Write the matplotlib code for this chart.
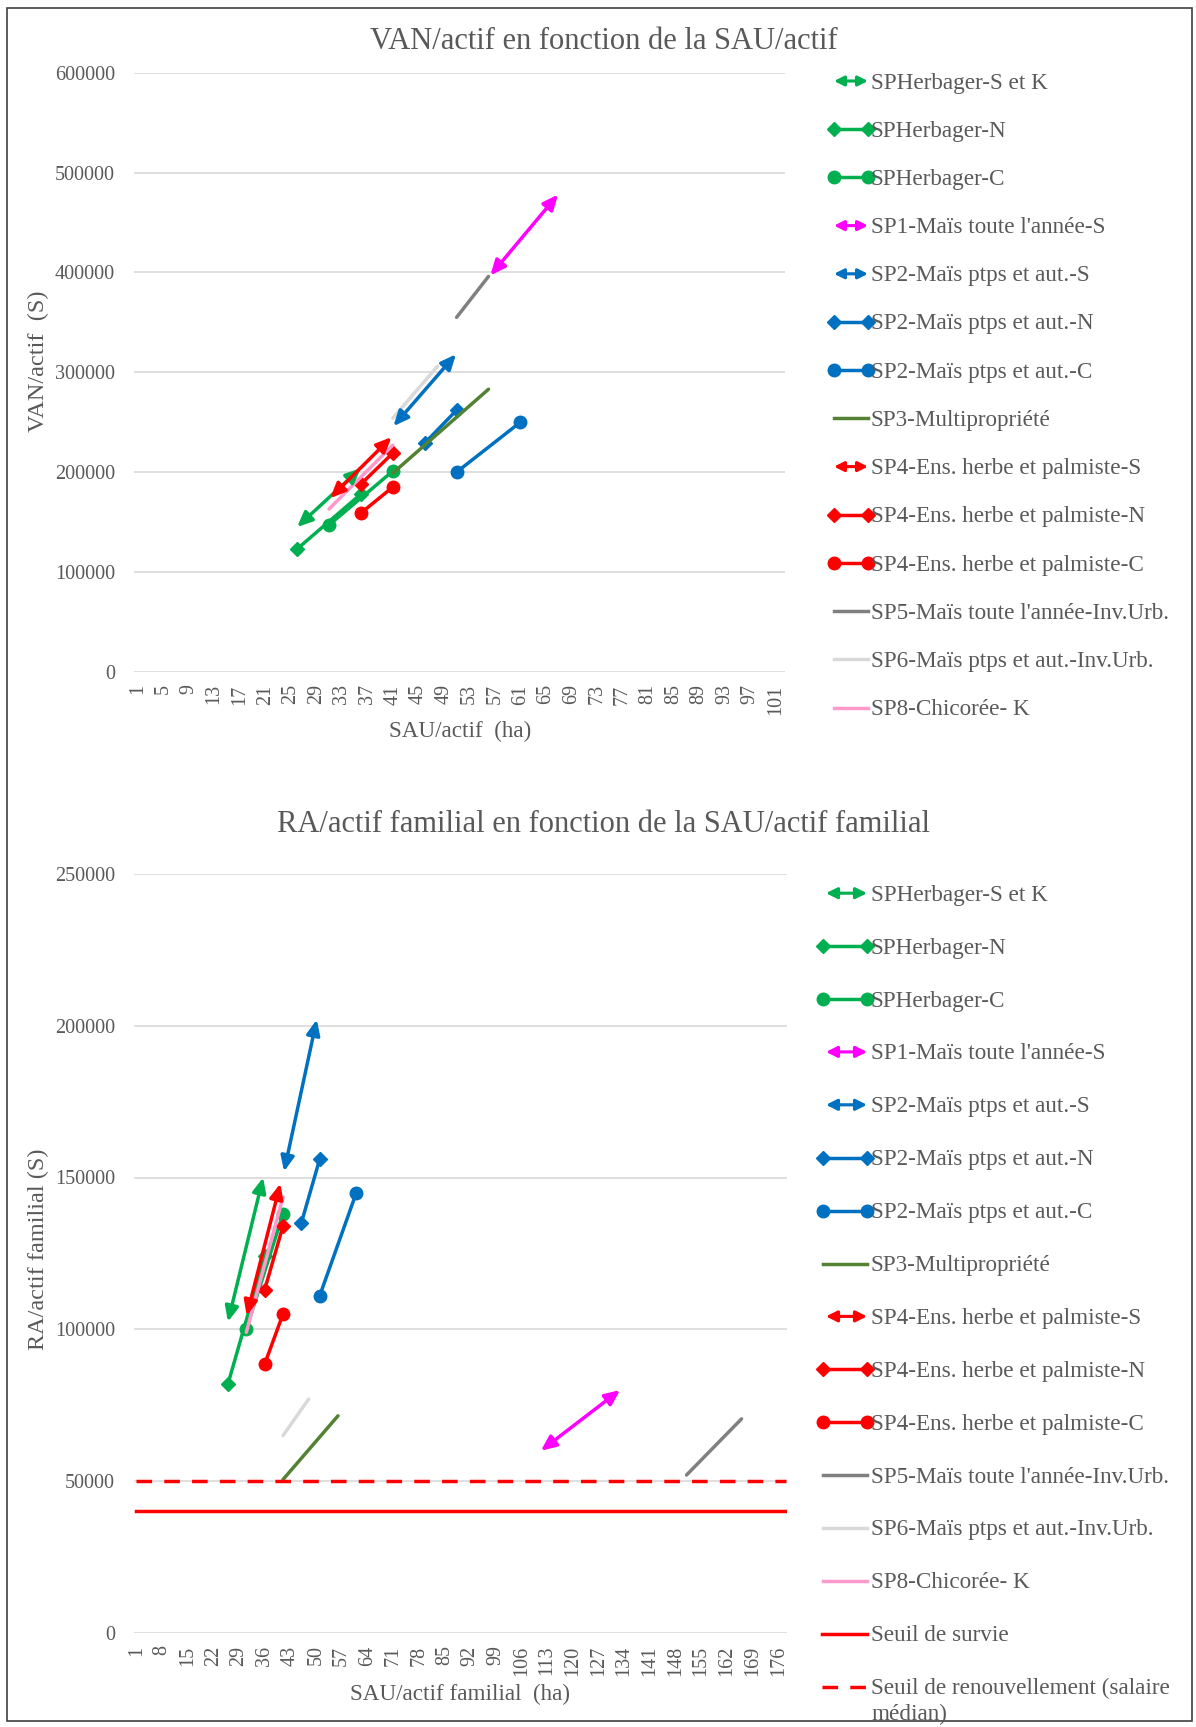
import matplotlib
matplotlib.use("Agg")
import matplotlib.pyplot as plt
from matplotlib.lines import Line2D
from matplotlib.patches import FancyArrowPatch, Rectangle

# ---------------- data ----------------
series_names = [
    "SPHerbager-S et K", "SPHerbager-N", "SPHerbager-C",
    "SP1-Maïs toute l'année-S", "SP2-Maïs ptps et aut.-S", "SP2-Maïs ptps et aut.-N",
    "SP2-Maïs ptps et aut.-C", "SP3-Multipropriété", "SP4-Ens. herbe et palmiste-S",
    "SP4-Ens. herbe et palmiste-N", "SP4-Ens. herbe et palmiste-C",
    "SP5-Maïs toute l'année-Inv.Urb.", "SP6-Maïs ptps et aut.-Inv.Urb.", "SP8-Chicorée- K",
]

# Chart 1: VAN/actif vs SAU/actif (start, end)
van_sau = [(26, 36), (26, 36), (31, 41), (56.3, 66.9), (41.1, 50.9), (46, 51), (51, 61),
           (41, 56), (31.2, 40.8), (36, 41), (36, 41), (51, 56), (41, 48), (31, 41)]
van_val = [(145000, 204000), (123000, 178000), (147000, 201000), (397000, 478000),
           (246000, 318000), (229000, 262000), (200000, 250000), (199000, 283000),
           (174000, 235000), (188000, 219000), (159000, 185000), (355000, 396000),
           (254000, 306000), (163000, 227000)]

# Chart 2: RA/actif familial vs SAU/actif familial (start, end)
ra_sau = [(26, 35.6), (26, 36), (31, 41), (111.3, 132.9), (41.3, 50.2), (46, 51), (51, 61),
          (41, 56), (31.1, 40.3), (36, 41), (36, 41), (151, 166), (41, 48), (31, 41)]
ra_val = [(102500, 150000), (82000, 124000), (100000, 138000), (60000, 80000),
          (152000, 202000), (135000, 156000), (111000, 145000), (50500, 71500),
          (104500, 148000), (113000, 134000), (88500, 105000), (52000, 70500),
          (65000, 77000), (99000, 143500)]

threshold_names = ["Seuil de survie", "Seuil de renouvellement (salaire\nmédian)"]
threshold_values = [40000, 50000]

van_xticks = list(range(1, 102, 4))
ra_xticks = list(range(1, 177, 7))
van_yticks = list(range(0, 600001, 100000))
ra_yticks = list(range(0, 250001, 50000))

# ---------------- styles ----------------
kinds = ["arrow", "D", "o", "arrow", "arrow", "D", "o", "line", "arrow", "D", "o",
         "line", "line", "line"]
colors = ["#00B050", "#00B050", "#00B050", "#FF00FF", "#0070C0", "#0070C0", "#0070C0",
          "#548235", "#FF0000", "#FF0000", "#FF0000", "#808080", "#D9D9D9", "#FF99CC"]
TXT = "#595959"
GRID = "#D9D9D9"
LW = 2.5

plt.rcParams["font.family"] = ["Liberation Serif", "DejaVu Serif"]

W, H = 1196, 1727
fig = plt.figure(figsize=(W / 100, H / 100), dpi=100)


def fx(px):
    return px / W


def fy(py):
    return 1 - py / H


ax1 = fig.add_axes([fx(134.4), fy(671.8), (785.2 - 134.4) / W, (671.8 - 72.7) / H])
ax2 = fig.add_axes([fx(134.4), fy(1632.9), (787.4 - 134.4) / W, (1632.9 - 873.9) / H])

ARROW = "<|-|>,head_length=0.45,head_width=0.2"
ARROW_LEG = "<|-|>,head_length=0.5,head_width=0.25"


def draw_series(ax, xs_list, ys_list):
    for k, c, xs, ys in zip(kinds, colors, xs_list, ys_list):
        if k == "arrow":
            ax.annotate("", xy=(xs[1], ys[1]), xytext=(xs[0], ys[0]),
                        arrowprops=dict(arrowstyle=ARROW, color=c, lw=LW,
                                        shrinkA=0, shrinkB=0, mutation_scale=20))
        elif k == "line":
            ax.plot(xs, ys, color=c, lw=LW, solid_capstyle="round")
        else:
            ax.plot(xs, ys, color=c, lw=LW, marker=k,
                    ms=9 if k == "o" else 7, solid_capstyle="round")


def style_axis(ax, xlim, xticks, yticks):
    ax.set_xlim(*xlim)
    ax.set_ylim(yticks[0], yticks[-1])
    ax.set_xticks(xticks)
    ax.set_xticklabels([str(t) for t in xticks], rotation=90)
    ax.set_yticks(yticks)
    ax.set_yticklabels([str(t) for t in yticks])
    for s in ax.spines.values():
        s.set_visible(False)
    ax.yaxis.grid(True, color=GRID, lw=1.2)
    ax.set_axisbelow(True)
    ax.tick_params(axis="both", length=0, labelsize=14.5, labelcolor=TXT)
    ax.tick_params(axis="y", pad=14)
    ax.tick_params(axis="x", pad=9)
    ax.patch.set_visible(False)


draw_series(ax1, van_sau, van_val)
style_axis(ax1, (0.5, 102.5), van_xticks, van_yticks)

draw_series(ax2, ra_sau, ra_val)
ra_full = [1, 178]
ax2.plot(ra_full, [threshold_values[0]] * 2, color="#FF0000", lw=LW)
ax2.plot(ra_full, [threshold_values[1]] * 2, color="#FF0000", lw=LW, dashes=(4.5, 3.5))
style_axis(ax2, (0.5, 178.5), ra_xticks, ra_yticks)

# titles & axis labels
fig.text(fx(603.5), fy(41.5), "VAN/actif en fonction de la SAU/actif", ha="center",
         va="center", fontsize=22, color=TXT)
fig.text(fx(603), fy(825), "RA/actif familial en fonction de la SAU/actif familial",
         ha="center", va="center", fontsize=22, color=TXT)
fig.text(fx(460), fy(731), "SAU/actif  (ha)", ha="center", va="center", fontsize=16.7, color=TXT)
fig.text(fx(460), fy(1694), "SAU/actif familial  (ha)", ha="center", va="center",
         fontsize=16.7, color=TXT)
fig.text(fx(38.5), fy(361), "VAN/actif  (S)", ha="center", va="center", rotation=90,
         fontsize=17.5, color=TXT)
fig.text(fx(38.5), fy(1249), "RA/actif familial (S)", ha="center", va="center", rotation=90,
         fontsize=17.5, color=TXT)


# legends (drawn manually)
def legend_entry(kind, color, y, x0, x1, xa0, xa1, label, dashed=False, ms_arrow=13):
    if kind == "arrow":
        p = FancyArrowPatch((fx(xa0), fy(y)), (fx(xa1), fy(y)), transform=fig.transFigure,
                            arrowstyle=ARROW_LEG, color=color, lw=LW * 0.9,
                            mutation_scale=ms_arrow, shrinkA=0, shrinkB=0)
        fig.add_artist(p)
    else:
        kw = dict(color=color, lw=LW, transform=fig.transFigure)
        if kind not in ("line",):
            kw.update(marker=kind, ms=9 if kind == "o" else 7)
        ln = Line2D([fx(x0), fx(x1)], [fy(y), fy(y)], **kw)
        if dashed:
            ln.set_dashes((4.5, 3.5))
        fig.add_artist(ln)
    for j, part in enumerate(label.split("\n")):
        fig.text(fx(871), fy(y + 7.5 + j * 25.5), part, ha="left", va="baseline",
                 fontsize=16.7, color=TXT)


for i, (name, k, c) in enumerate(zip(series_names, kinds, colors)):
    y = 81 + i * 48.2
    legend_entry(k, c, y, 834, 868, 834, 868, name, ms_arrow=11.5)

for i, (name, k, c) in enumerate(zip(series_names, kinds, colors)):
    y = 893.2 + i * 52.9
    legend_entry(k, c, y, 823, 867, 826, 867, name)

for j, name in enumerate(threshold_names):
    y = 893.2 + (len(series_names) + j) * 52.9
    legend_entry("line", "#FF0000", y, 822, 867, 0, 0, name, dashed=(j == 1))

fig.add_artist(Rectangle((fx(7), fy(1721)), (1192 - 7) / W, (1721 - 8) / H,
                         transform=fig.transFigure, fill=False, edgecolor="#404040", lw=1.2))

fig.savefig("out.png", dpi=100)
